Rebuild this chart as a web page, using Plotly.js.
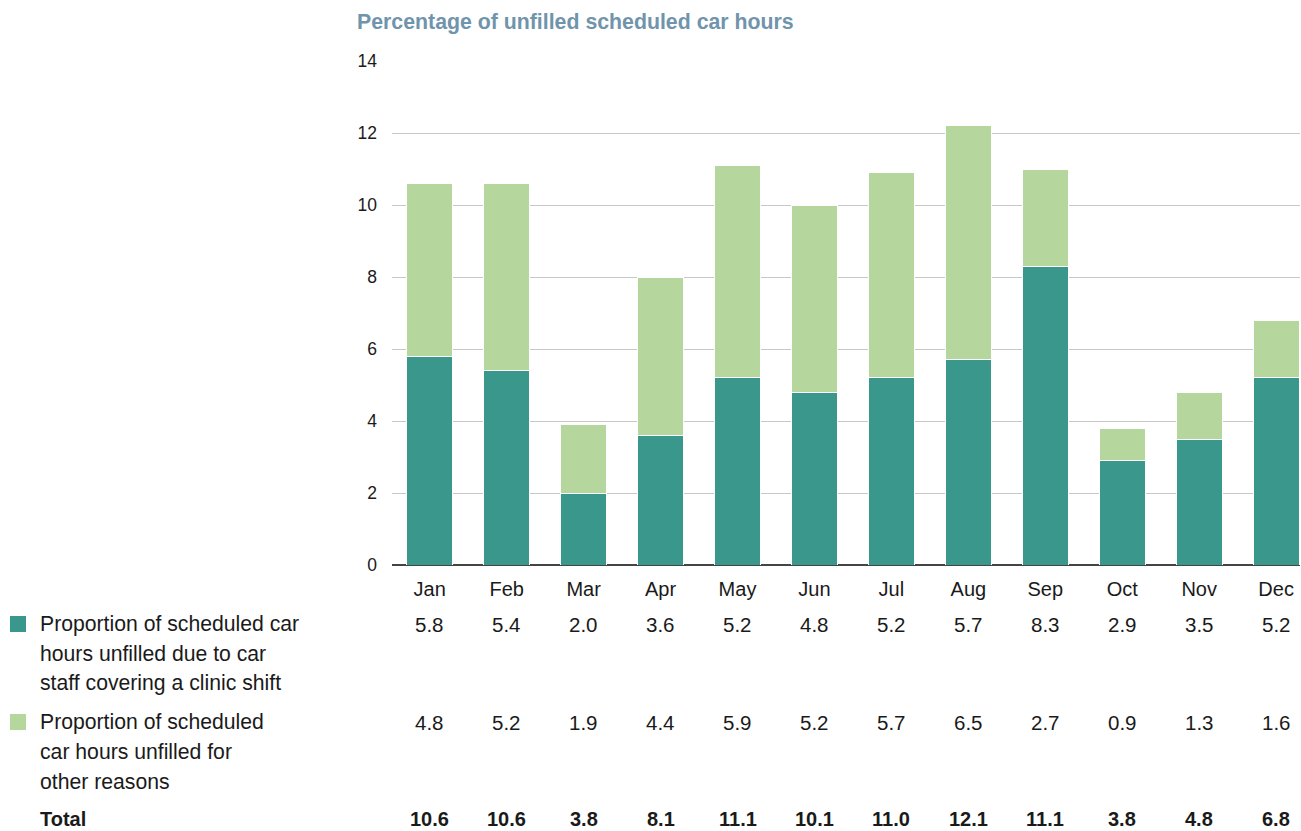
<!DOCTYPE html>
<html>
<head>
<meta charset="utf-8">
<script src="https://cdn.plot.ly/plotly-3.0.1.min.js"></script>
<style>html,body{margin:0;padding:0;background:#fff;}#chart{width:1301px;height:831px;}</style>
</head>
<body>
<div id="chart"></div>
<script>
const months = ["Jan","Feb","Mar","Apr","May","Jun","Jul","Aug","Sep","Oct","Nov","Dec"];
const clinicShift = [5.8,5.4,2.0,3.6,5.2,4.8,5.2,5.7,8.3,2.9,3.5,5.2];
const otherReasons = [4.8,5.2,1.9,4.4,5.9,5.2,5.7,6.5,2.7,0.9,1.3,1.6];
const totals = [10.6,10.6,3.8,8.1,11.1,10.1,11.0,12.1,11.1,3.8,4.8,6.8];
const seriesNames = [
  ["Proportion of scheduled car","hours unfilled due to car","staff covering a clinic shift"],
  ["Proportion of scheduled","car hours unfilled for","other reasons"]
];
const totalLabel = "Total";
const colors = ["#3a978b","#b5d69d"];

const W = 1301, H = 831;
const L = 392, R = 1, T = 61, B = 266;
const plotW = W - L - R, plotH = H - T - B;
const px2x = p => (p - L) / plotW;
const py2y = p => (H - B - p) / plotH;

const FONT = "Liberation Sans, Arial, sans-serif";

const traces = [
  {type:"bar", x:months, y:clinicShift, name:seriesNames[0].join(" "),
   marker:{color:colors[0], line:{color:"#ffffff", width:1}}, hoverinfo:"y"},
  {type:"bar", x:months, y:otherReasons, name:seriesNames[1].join(" "),
   marker:{color:colors[1], line:{color:"#ffffff", width:1}}, hoverinfo:"y"}
];

const annotations = [];
const shapes = [];
const rowY = [624, 722];
const lineStep = 29.5;
seriesNames.forEach((lines, r) => {
  lines.forEach((t, i) => {
    annotations.push({xref:"paper", yref:"paper", x:px2x(38), y:py2y(rowY[r] + i*lineStep),
      xanchor:"left", yanchor:"middle", text:t, showarrow:false,
      font:{family:FONT, size:21.2, color:"#1a1a1a"}});
  });
  shapes.push({type:"rect", xref:"paper", yref:"paper",
    x0:px2x(10), x1:px2x(26), y0:py2y(rowY[r]-8), y1:py2y(rowY[r]+8),
    fillcolor:colors[r], line:{width:0}});
});
const vals = [clinicShift, otherReasons];
vals.forEach((arr, r) => {
  arr.forEach((v, i) => {
    annotations.push({xref:"x", yref:"paper", x:months[i], y:py2y(rowY[r]),
      xanchor:"center", yanchor:"middle", text:v.toFixed(1), showarrow:false,
      font:{family:FONT, size:20.5, color:"#1a1a1a"}});
  });
});
const totY = 819;
annotations.push({xref:"paper", yref:"paper", x:px2x(38), y:py2y(totY),
  xanchor:"left", yanchor:"middle", text:"<b>"+totalLabel+"</b>", showarrow:false,
  font:{family:FONT, size:20, color:"#1a1a1a"}});
totals.forEach((v, i) => {
  annotations.push({xref:"x", yref:"paper", x:months[i], y:py2y(totY),
    xanchor:"center", yanchor:"middle", text:"<b>"+v.toFixed(1)+"</b>", showarrow:false,
    font:{family:FONT, size:20, color:"#1a1a1a"}});
});

const layout = {
  width:W, height:H,
  margin:{l:L, r:R, t:T, b:B, pad:0},
  paper_bgcolor:"#ffffff", plot_bgcolor:"#ffffff",
  barmode:"stack", bargap:0.40,
  showlegend:false,
  title:{text:"<b>Percentage of unfilled scheduled car hours</b>",
    font:{family:FONT, size:21.3, color:"#7094ac"},
    xref:"container", yref:"container", x:357/W, xanchor:"left", y:1-22/H, yanchor:"middle"},
  xaxis:{type:"category", range:[-0.49, 11.31], showgrid:false, zeroline:false,
    showline:false, ticks:"", ticklabelstandoff:10,
    tickfont:{family:FONT, size:20, color:"#1a1a1a"}, fixedrange:true},
  yaxis:{range:[0,14], dtick:2, tick0:0, showgrid:true, gridcolor:"#c8c8c8", gridwidth:1,
    zeroline:true, zerolinecolor:"#444444", zerolinewidth:1.5, showline:false, ticks:"",
    ticklabelstandoff:14, tickfont:{family:FONT, size:17.5, color:"#1a1a1a"}, fixedrange:true},
  annotations:annotations,
  shapes:shapes,
  font:{family:FONT}
};

Plotly.newPlot("chart", traces, layout, {displayModeBar:false, staticPlot:true});
</script>
</body>
</html>
